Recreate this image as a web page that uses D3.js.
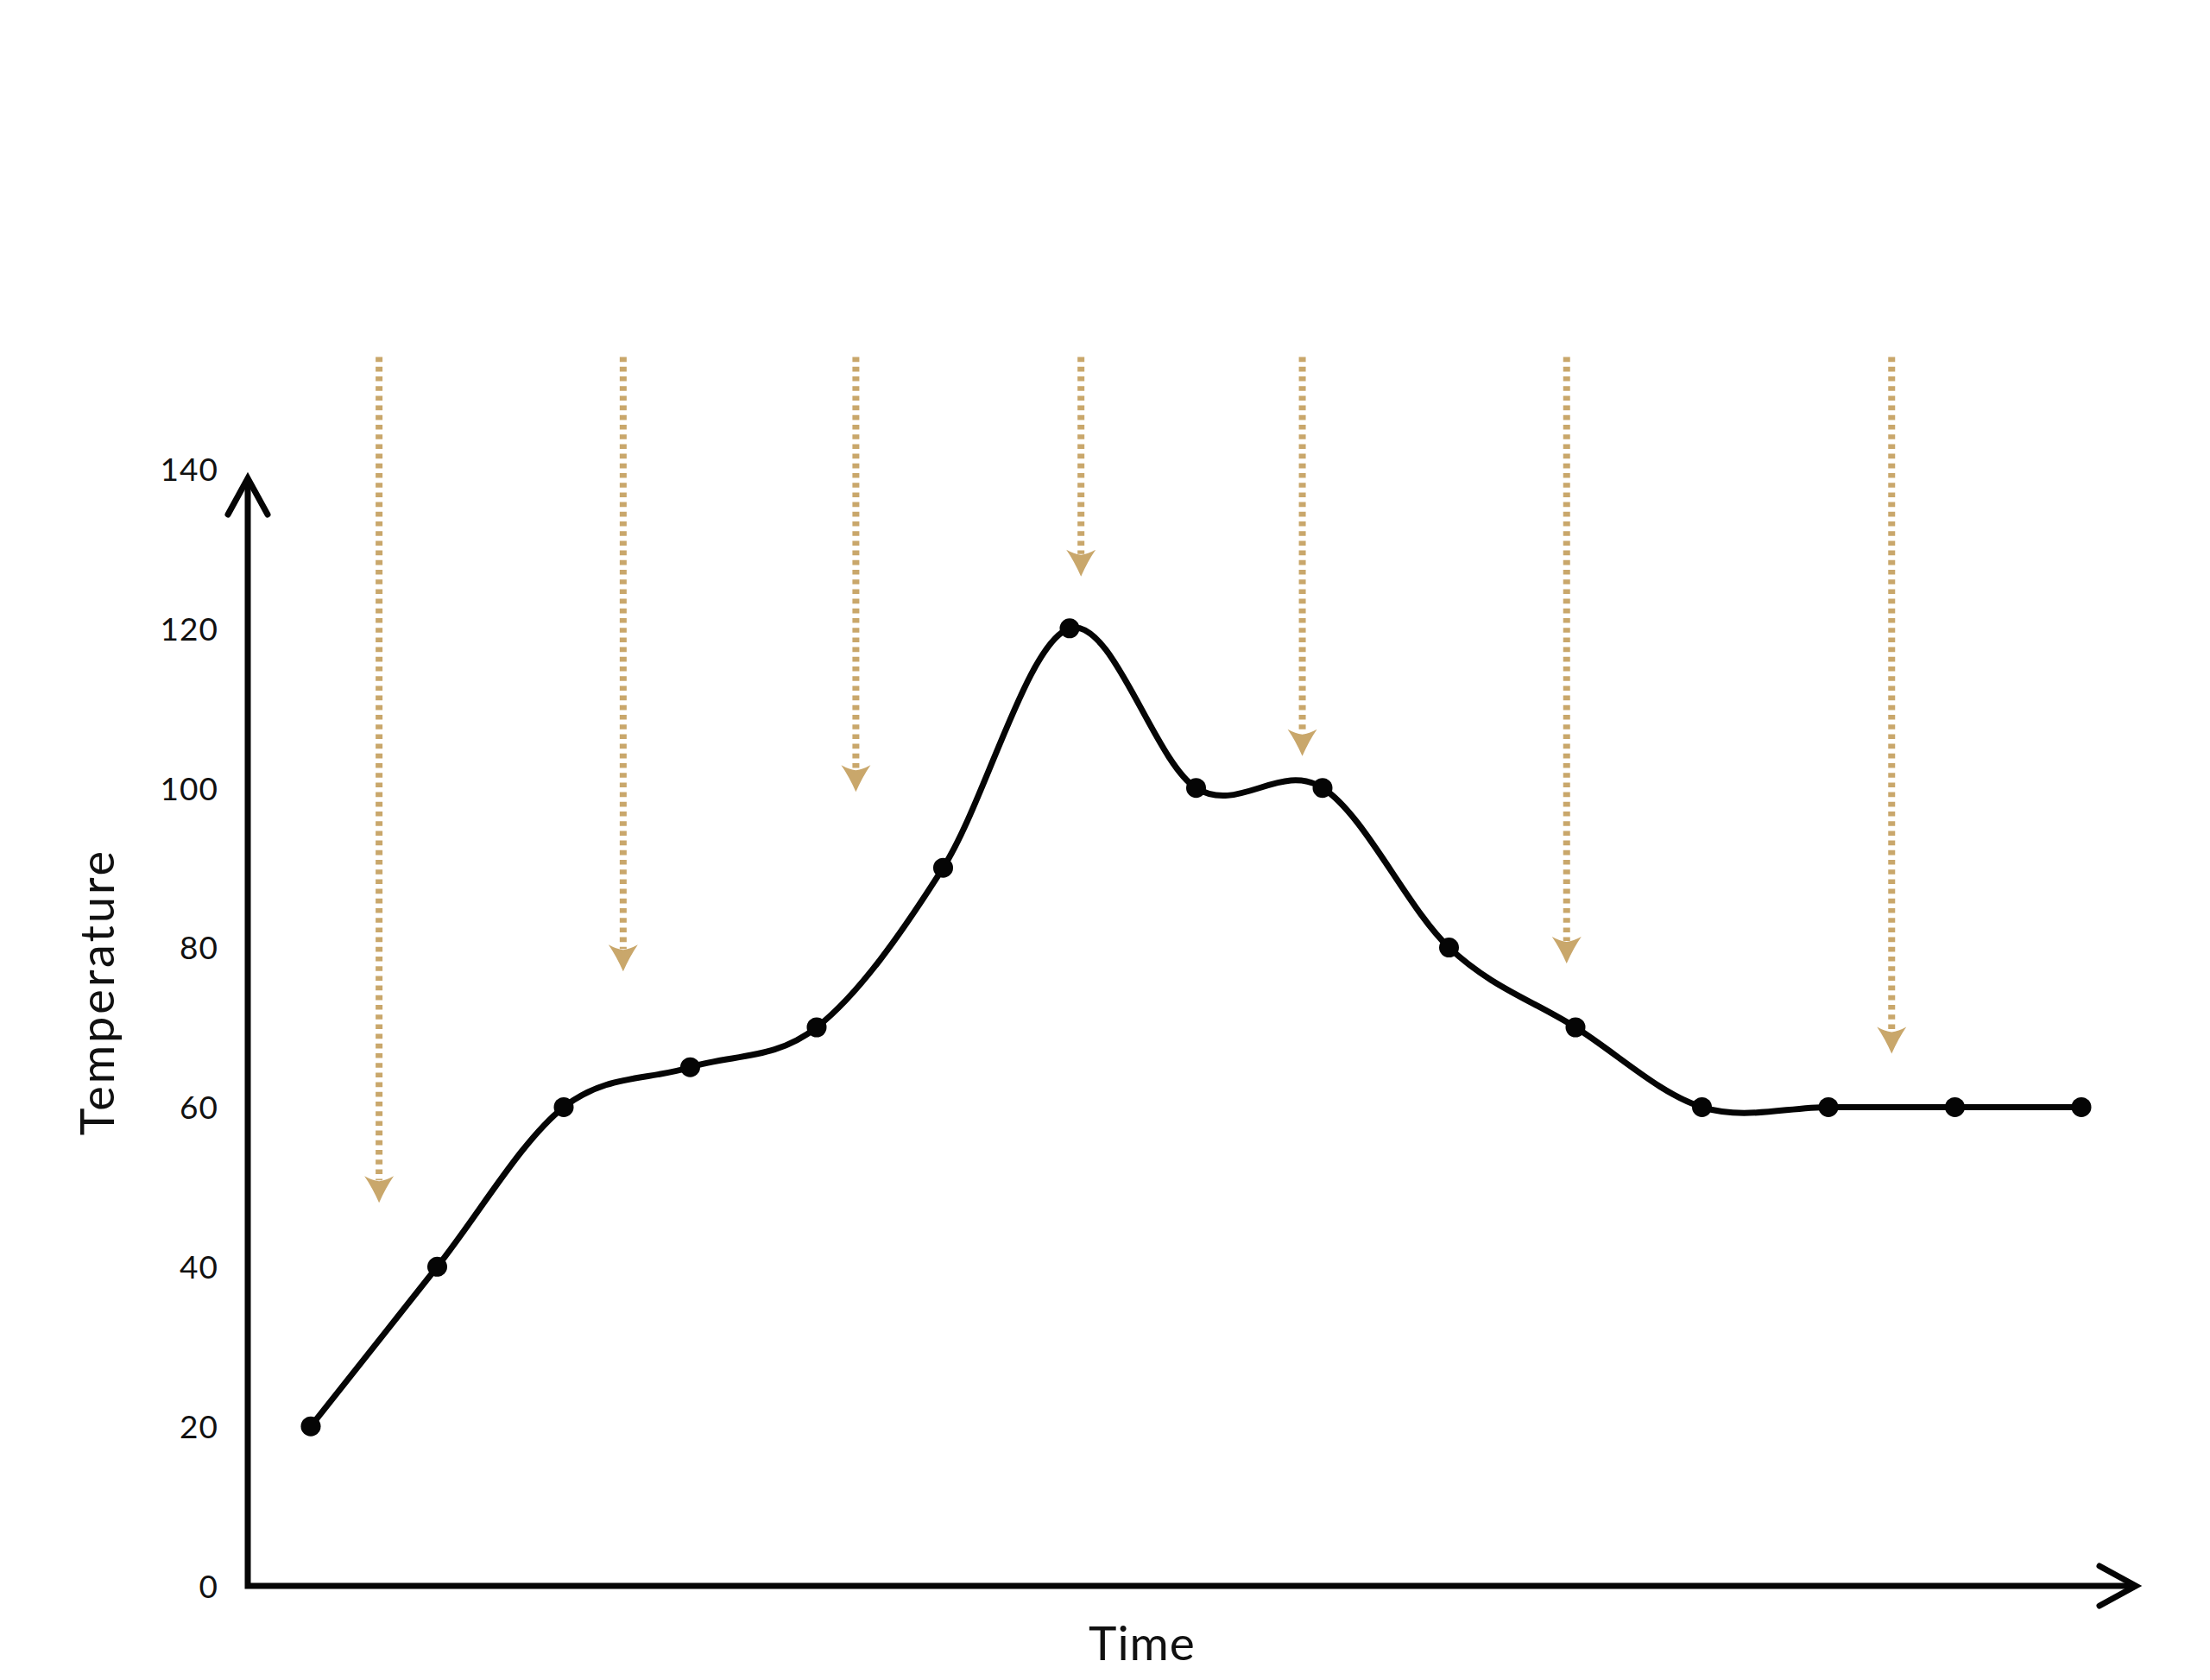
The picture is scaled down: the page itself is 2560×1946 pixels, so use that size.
<!DOCTYPE html>
<html lang="en">
<head>
<meta charset="UTF-8">
<title>Temperature over Time</title>
<style>
  body { margin: 0; background: #fff; }
  svg { display: block; font-family: Lato, "Open Sans", sans-serif; }
  .tick text { fill: #111; }
</style>
<script src="https://d3js.org/d3.v7.min.js"></script>
</head>
<body>
<svg id="chart" width="2560" height="1946"></svg>
<script>
// temperature readings, one per time step
const steps = d3.range(15);
const temps = [20, 40, 60, 65, 70, 90, 120, 100, 100, 80, 70, 60, 60, 60, 60];
const yTicks = [0, 20, 40, 60, 80, 100, 120, 140];

// dotted heat arrows: position on the time axis and where the tip stops
const arrowAt = [0.54, 2.47, 4.31, 6.09, 7.84, 9.93, 12.5];
const arrowTip = [48, 77, 99.5, 126.5, 104, 78, 66.7];
const arrowTop = 154;

const svg = d3.select("#chart");
const gold = "#c9a76b";

const x = d3.scaleLinear().domain([0, 14]).range([360, 2411]);
const y = d3.scaleLinear().domain([0, 140]).range([1837, 543]);

const axisX = 287, axisY = y(0), xEnd = 2474, yEnd = 554;

// heat arrows (drawn first so the curve sits on top)
const arrows = svg.append("g");
arrowAt.forEach((t, i) => {
  const ax = x(t), tip = y(arrowTip[i]);
  arrows.append("line")
    .attr("x1", ax).attr("x2", ax)
    .attr("y1", y(arrowTop)).attr("y2", tip - 26)
    .attr("stroke", gold)
    .attr("stroke-width", 8)
    .attr("stroke-dasharray", "5.6 5.6");
  arrows.append("path")
    .attr("d", "M0,0 Q-8,-18 -17,-31 Q-8,-26 0,-25 Q8,-26 17,-31 Q8,-18 0,0 Z")
    .attr("transform", `translate(${ax},${tip})`)
    .attr("fill", gold);
});

// y tick labels
const yAxis = svg.append("g")
  .attr("transform", `translate(${axisX},0)`)
  .call(d3.axisLeft(y).tickValues(yTicks).tickSize(0).tickPadding(34));
yAxis.select(".domain").remove();
yAxis.selectAll("text")
  .attr("font-size", 37)
  .attr("font-family", "Lato, sans-serif")
  .attr("letter-spacing", 1)
  .attr("dy", "0.36em");

// axis lines with open arrowheads
const axes = svg.append("g")
  .attr("fill", "none")
  .attr("stroke", "#050505")
  .attr("stroke-width", 7);
axes.append("path")
  .attr("d", `M${axisX},${yEnd} L${axisX},${axisY} L${xEnd},${axisY}`)
  .attr("stroke-linejoin", "miter");
axes.append("path")
  .attr("d", `M${axisX - 23},${yEnd + 42} L${axisX},${yEnd} L${axisX + 23},${yEnd + 42}`)
  .attr("stroke-linecap", "round").attr("stroke-linejoin", "miter");
axes.append("path")
  .attr("d", `M${xEnd - 42},${axisY - 23} L${xEnd},${axisY} L${xEnd - 42},${axisY + 23}`)
  .attr("stroke-linecap", "round").attr("stroke-linejoin", "miter");

// temperature curve
const line = d3.line()
  .x((d, i) => x(steps[i]))
  .y(d => y(d))
  .curve(d3.curveCardinal.tension(0));

svg.append("path")
  .datum(temps)
  .attr("d", line)
  .attr("fill", "none")
  .attr("stroke", "#050505")
  .attr("stroke-width", 7);

svg.append("g")
  .selectAll("circle")
  .data(temps)
  .join("circle")
  .attr("cx", (d, i) => x(steps[i]))
  .attr("cy", d => y(d))
  .attr("r", 11.5)
  .attr("fill", "#050505");

// axis titles
svg.append("text")
  .attr("transform", "translate(132,1149) rotate(-90)")
  .attr("text-anchor", "middle")
  .attr("font-size", 54)
  .attr("letter-spacing", 3)
  .attr("fill", "#111")
  .text("Temperature");

svg.append("text")
  .attr("x", 1323)
  .attr("y", 1923)
  .attr("text-anchor", "middle")
  .attr("font-size", 55)
  .attr("letter-spacing", 1)
  .attr("fill", "#111")
  .text("Time");
</script>
</body>
</html>
